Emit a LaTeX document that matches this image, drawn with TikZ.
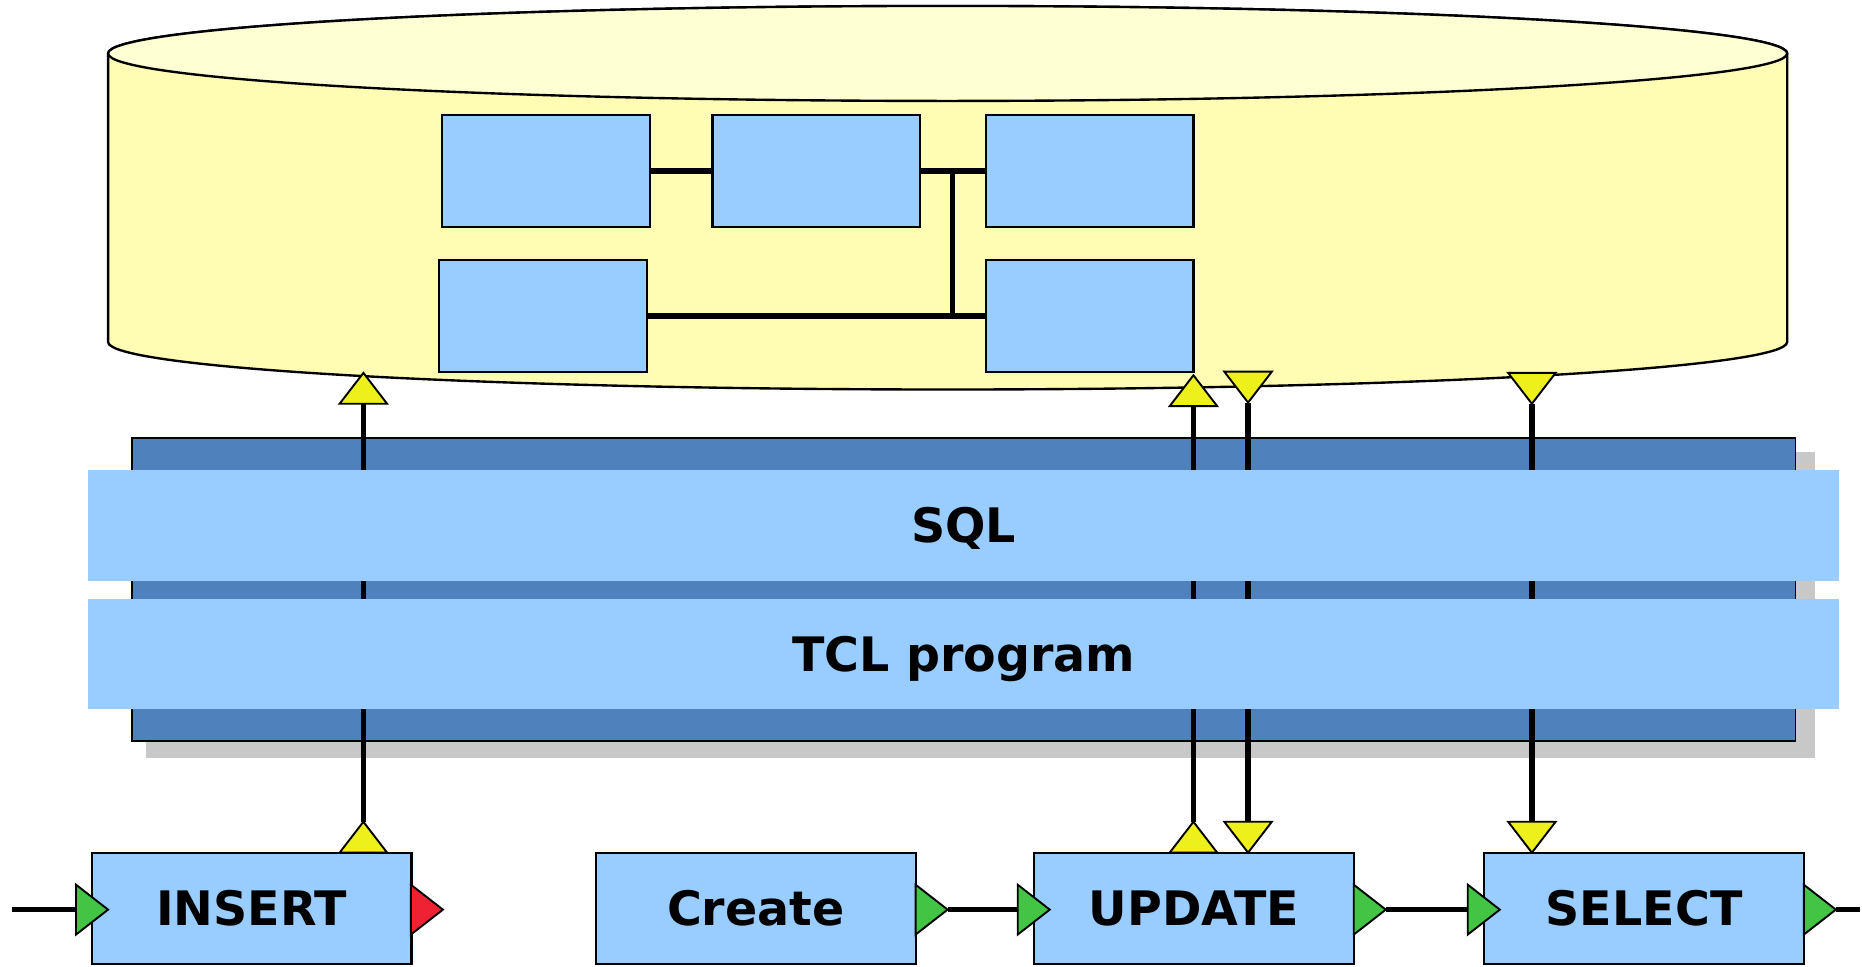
\documentclass[tikz,border=0pt]{standalone}
\usepackage{fontspec}
\setmainfont{DejaVu Sans}
\usetikzlibrary{shapes.geometric}
\definecolor{cyltop}{HTML}{FFFFD4}
\definecolor{cylbody}{HTML}{FFFCB4}
\definecolor{lblue}{HTML}{99CCFF}
\definecolor{dblue}{HTML}{4F81BD}
\definecolor{shadowgray}{HTML}{C8C8C8}
\definecolor{tyellow}{HTML}{EEF01C}
\definecolor{tgreen}{HTML}{44C444}
\definecolor{tred}{HTML}{EE2233}
\tikzset{
  lbl/.style={font=\fontsize{20pt}{24pt}\selectfont\bfseries, text height=14.6pt, text depth=0pt},
  dbbox/.style={draw=black, line width=0.9pt, fill=lblue, minimum width=87.5pt, minimum height=47pt, inner sep=0pt, outer sep=0pt},
  opbox/.style={draw=black, line width=0.9pt, fill=lblue, minimum width=134.5pt, minimum height=47pt, inner sep=0pt, outer sep=0pt, lbl},
  strip/.style={fill=lblue, minimum width=737.5pt, minimum height=46.5pt, inner sep=0pt, outer sep=0pt, lbl},
  conn/.style={line width=2.4pt},
  port/.style={isosceles triangle, isosceles triangle stretches, draw=black, line width=0.8pt, inner sep=0pt, outer sep=0pt},
  vport/.style={port, fill=tyellow, minimum width=20pt, minimum height=13pt},
  hport/.style={port, minimum width=21pt, minimum height=13.5pt},
}
\begin{document}
\begin{tikzpicture}[x=0.5pt, y=0.5pt]
\useasboundingbox (0,0) rectangle (1568,-814);

% database cylinder
\draw[fill=cylbody, line width=1pt] (91,-45) -- (91,-288)
  arc[start angle=180, end angle=360, x radius=707, y radius=40]
  -- (1505,-45)
  arc[start angle=0, end angle=180, x radius=707, y radius=40] -- cycle;
\draw[fill=cyltop, line width=1pt] (798,-45) ellipse[x radius=707, y radius=40];

% tables in the database
\node[dbbox] (ta) at (459.5,-144) {};
\node[dbbox] (tb) at (687.5,-144) {};
\node[dbbox] (tc) at (917.5,-144) {};
\node[dbbox] (td) at (457.5,-266) {};
\node[dbbox] (te) at (917.5,-266) {};
\coordinate (j1) at (802,-144);
\coordinate (j2) at (802,-266);
\draw[conn] (ta.east) -- (tb.west);
\draw[conn] (tb.east) -- (tc.west);
\draw[conn] (j1) -- (j2);
\draw[conn] (td.east) -- (te.west);

% program layer
\fill[shadowgray] (123,-381) rectangle (1528,-638);
\draw[fill=dblue, line width=0.8pt] (111,-369) rectangle (1512,-624);

% ports on the database
\node[vport, rotate=90, anchor=lower side] (dbi) at (306,-340) {};
\node[vport, rotate=90, anchor=lower side] (dbu1) at (1005,-342) {};
\node[vport, rotate=-90, anchor=lower side] (dbu2) at (1051,-313) {};
\node[vport, rotate=-90, anchor=lower side] (dbs) at (1290,-314) {};

% operation boxes
\node[opbox] (insert) at (212,-765) {INSERT};
\node[opbox] (create) at (636.5,-765) {Create};
\node[opbox] (update) at (1005.5,-765) {UPDATE};
\node[opbox] (select) at (1384.5,-765) {SELECT};

% ports on the operations
\node[vport, rotate=90, anchor=lower side] (opi) at (306,-718) {};
\node[vport, rotate=90, anchor=lower side] (opu1) at (1005,-718) {};
\node[vport, rotate=-90, anchor=lower side] (opu2) at (1051,-692) {};
\node[vport, rotate=-90, anchor=lower side] (ops) at (1290,-692) {};

% vertical connectors
\draw[conn] (dbi.lower side) -- (opi.apex);
\draw[conn] (dbu1.lower side) -- (opu1.apex);
\draw[conn] (dbu2.apex) -- (opu2.lower side);
\draw[conn] (dbs.apex) -- (ops.lower side);

% strips
\node[strip] (sql) at (811.5,-442.5) {SQL};
\node[strip] (tcl) at (811.5,-550.5) {TCL program};

% horizontal ports
\node[hport, fill=tgreen, anchor=lower side] (insin) at (64,-766) {};
\node[hport, fill=tred, anchor=lower side] (insout) at (346,-766) {};
\node[hport, fill=tgreen, anchor=lower side] (creout) at (771,-766) {};
\node[hport, fill=tgreen, anchor=lower side] (updin) at (857,-766) {};
\node[hport, fill=tgreen, anchor=lower side] (updout) at (1140,-766) {};
\node[hport, fill=tgreen, anchor=lower side] (selin) at (1236,-766) {};
\node[hport, fill=tgreen, anchor=lower side] (selout) at (1519,-766) {};
\coordinate (start) at (10,-766);
\coordinate (finish) at (1566,-766);

\draw[conn] (start) -- (insin.lower side);
\draw[conn] (creout.apex) -- (updin.lower side);
\draw[conn] (updout.apex) -- (selin.lower side);
\draw[conn] (selout.apex) -- (finish);
\end{tikzpicture}
\end{document}
